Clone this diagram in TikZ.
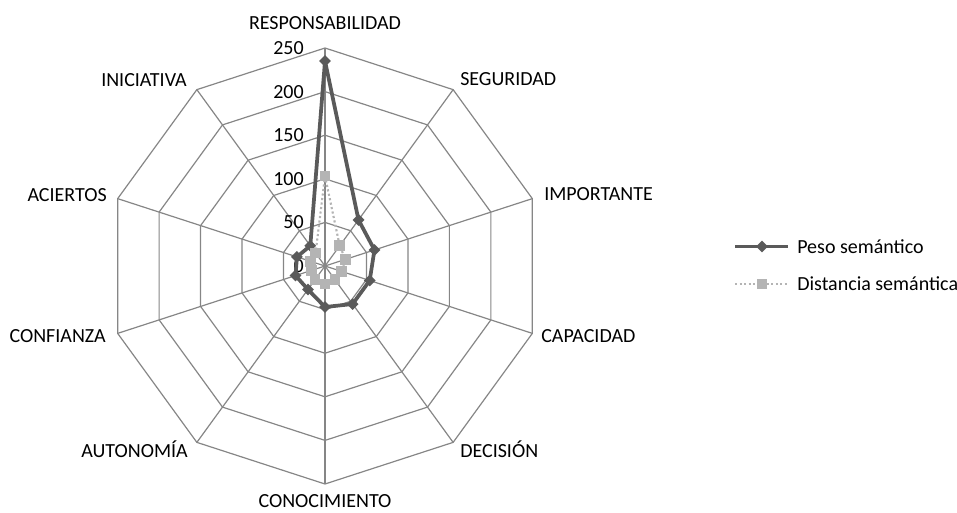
\documentclass[tikz,border=0pt]{standalone}
\usepackage{fontspec}
\setmainfont{Carlito}
\usetikzlibrary{shapes.geometric}
\definecolor{gridgray}{HTML}{868686}
\definecolor{pesogray}{HTML}{5A5A5A}
\definecolor{distgray}{HTML}{B4B4B4}
\tikzset{
  axislabel/.style={inner sep=0pt,font=\fontsize{15}{17}\selectfont},
  ticklabel/.style={inner sep=0pt,anchor=east,font=\fontsize{15}{17}\selectfont},
  gridline/.style={gridgray,line width=0.9pt},
  pesoline/.style={pesogray,line width=2.8pt,line join=round},
  distline/.style={distgray,line width=1.6pt,dash pattern=on 1.6pt off 1.8pt},
  pesomark/.style={diamond,fill=pesogray,inner sep=0pt,minimum size=9pt},
  distmark/.style={rectangle,fill=distgray,inner sep=0pt,minimum size=8pt},
}
\begin{document}
\begin{tikzpicture}[x=0.75pt,y=0.75pt]
                \useasboundingbox (-325,-246) rectangle (632,266);
                \coordinate (c) at (0,0);
                \coordinate (resp) at (90:218); \coordinate (seg) at (54:218); \coordinate (imp) at (18:218);
                \coordinate (cap) at (-18:218); \coordinate (dec) at (-54:218); \coordinate (con) at (-90:218);
                \coordinate (aut) at (-126:218); \coordinate (conf) at (-162:218); \coordinate (aci) at (162:218);
                \coordinate (ini) at (126:218);

                % rings and spokes
                \foreach \r in {43.6,87.2,130.8,174.4,218}
                    \draw[gridline] (90:\r) -- (54:\r) -- (18:\r) -- (-18:\r) -- (-54:\r) -- (-90:\r) -- (-126:\r) -- (-162:\r) -- (162:\r) -- (126:\r) -- cycle;
                \foreach \k in {resp,seg,imp,cap,dec,con,aut,conf,aci,ini}
                    \draw[gridline] (c) -- (\k);

                \node[ticklabel] (t0) at (-21,0) {0};
                \node[ticklabel] (t50) at (-21,43.6) {50};
                \node[ticklabel] (t100) at (-21,87.2) {100};
                \node[ticklabel] (t150) at (-21,130.8) {150};
                \node[ticklabel] (t200) at (-21,174.4) {200};
                \node[ticklabel] (t250) at (-21,218) {250};

                \node[axislabel] (lresp) at (0,243) {RESPONSABILIDAD};
                \node[axislabel,anchor=west] (lseg) at (135,187) {SEGURIDAD};
                \node[axislabel,anchor=west] (limp) at (219,72) {IMPORTANTE};
                \node[axislabel,anchor=west] (lcap) at (216,-70) {CAPACIDAD};
                \node[axislabel,anchor=west] (ldec) at (135,-183) {DECISIÓN};
                \node[axislabel] (lcon) at (0,-235.5) {CONOCIMIENTO};
                \node[axislabel,anchor=east] (laut) at (-137,-183) {AUTONOMÍA};
                \node[axislabel,anchor=east] (lconf) at (-219,-70) {CONFIANZA};
                \node[axislabel,anchor=east] (laci) at (-218,71) {ACIERTOS};
                \node[axislabel,anchor=east] (lini) at (-138,186) {INICIATIVA};

                % Peso semantico
                \coordinate (p1) at (90:205); \coordinate (p2) at (54:57); \coordinate (p3) at (18:52);
                \coordinate (p4) at (-18:47); \coordinate (p5) at (-54:47); \coordinate (p6) at (-90:41);
                \coordinate (p7) at (-126:29); \coordinate (p8) at (-162:31); \coordinate (p9) at (162:29.5);
                \coordinate (p10) at (126:25);
                \draw[pesoline] (p1) -- (p2) -- (p3) -- (p4) -- (p5) -- (p6) -- (p7) -- (p8) -- (p9) -- (p10) -- cycle;
                \foreach \i in {1,...,10}
                    \node[pesomark] (mp\i) at (p\i) {};

                % Distancia semantica
                \coordinate (d1) at (90:90); \coordinate (d2) at (54:25); \coordinate (d3) at (18:21.5);
                \coordinate (d4) at (-18:17.5); \coordinate (d5) at (-54:17); \coordinate (d6) at (-90:18);
                \coordinate (d7) at (-126:17); \coordinate (d8) at (-162:14); \coordinate (d9) at (162:15);
                \coordinate (d10) at (126:16);
                \draw[distline] (d1) -- (d2) -- (d3) -- (d4) -- (d5) -- (d6) -- (d7) -- (d8) -- (d9) -- (d10) -- cycle;
                \foreach \i in {1,...,10}
                    \node[distmark] (md\i) at (d\i) {};

                % legend
                \coordinate (lpa) at (410,19.5); \coordinate (lpb) at (463,19.5);
                \draw[pesoline,line width=2.2pt] (lpa) -- (lpb);
                \node[pesomark] (lpm) at (437,19.5) {};
                \node[axislabel,anchor=west] (lpt) at (472,19.5) {Peso semántico};
                \coordinate (lda) at (410,-18); \coordinate (ldb) at (463,-18);
                \draw[distline,line width=1.2pt] (lda) -- (ldb);
                \node[distmark] (ldm) at (437,-18) {};
                \node[axislabel,anchor=west] (ldt) at (472,-18) {Distancia semántica};
            \end{tikzpicture}
\end{document}
